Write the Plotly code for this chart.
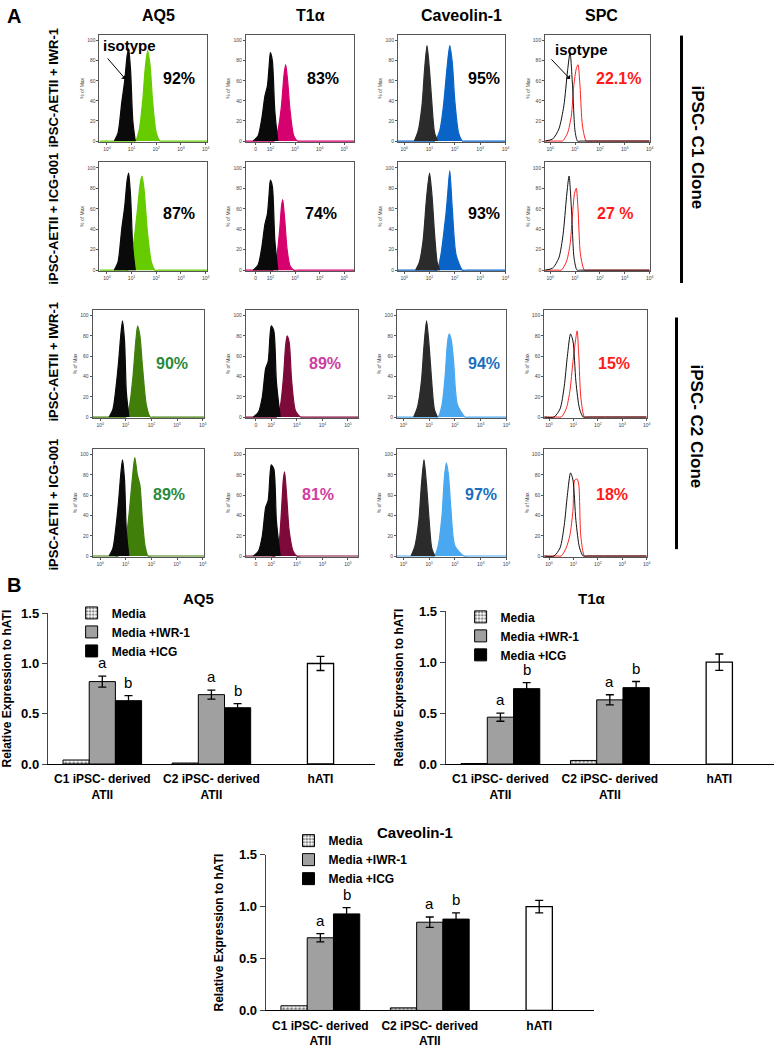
import plotly.graph_objects as go

W, H = 778, 1050
FONT = "Arial, Liberation Sans, sans-serif"

# ---------------- Panel A data (x = log10 fluorescence, y = % of Max) ----------------
MARKERS = ["AQ5", "T1α", "Caveolin-1", "SPC"]
ROW_LABELS = ["iPSC-AETII + IWR-1", "iPSC-AETII + ICG-001",
              "iPSC-AETII + IWR-1", "iPSC-AETII + ICG-001"]
PERCENTS = [["92%", "83%", "95%", "22.1%"],
            ["87%", "74%", "93%", "27 %"],
            ["90%", "89%", "94%", "15%"],
            ["89%", "81%", "97%", "18%"]]
CLONES = ["iPSC- C1 Clone", "iPSC- C2 Clone"]

AQ5_ISO_X = [[0.3, 0.45, 0.6, 0.72, 0.82, 0.88, 0.96, 1.05, 1.15],
             [0.3, 0.45, 0.6, 0.72, 0.82, 0.88, 0.96, 1.05, 1.15],
             [0.35, 0.5, 0.62, 0.72, 0.8, 0.87, 0.95, 1.02, 1.12],
             [0.35, 0.5, 0.62, 0.72, 0.8, 0.87, 0.95, 1.02, 1.12]]
AQ5_ISO_Y = [[0, 8, 38, 60, 85, 92, 70, 20, 0],
             [0, 8, 40, 62, 88, 95, 72, 22, 0],
             [0, 8, 30, 55, 80, 95, 75, 25, 0],
             [0, 8, 30, 55, 80, 95, 75, 25, 0]]
AQ5_POS_X = [[-0.3, 1.0, 1.15, 1.3, 1.45, 1.55, 1.65, 1.75, 1.85, 2.0, 2.15, 2.3, 4.05],
             [-0.3, 0.7, 0.85, 1.0, 1.15, 1.25, 1.35, 1.42, 1.5, 1.65, 1.8, 1.95, 2.1, 4.05],
             [-0.3, 0.85, 1.0, 1.15, 1.28, 1.38, 1.46, 1.55, 1.65, 1.8, 1.95, 2.1, 4.05],
             [-0.3, 0.55, 0.7, 0.95, 1.12, 1.25, 1.35, 1.45, 1.55, 1.65, 1.75, 1.87, 2.0, 4.05]]
AQ5_POS_Y = [[0, 0, 0, 10, 40, 72, 90, 75, 40, 8, 0, 0, 0],
             [0, 0, 0, 12, 40, 62, 85, 92, 80, 35, 8, 0, 0, 0],
             [0, 0, 0, 12, 40, 72, 90, 80, 50, 12, 0, 0, 0],
             [0, 0, 0, 10, 40, 75, 97, 80, 70, 35, 10, 0, 0, 0]]

T1A_ISO_X = [[1.3, 1.5, 1.65, 1.78, 1.88, 1.95, 2.0, 2.08, 2.18, 2.3],
             [1.3, 1.5, 1.65, 1.78, 1.88, 1.95, 2.0, 2.08, 2.18, 2.3],
             [1.3, 1.5, 1.65, 1.78, 1.88, 1.95, 2.0, 2.1, 2.2, 2.35],
             [1.3, 1.5, 1.65, 1.78, 1.88, 1.95, 2.0, 2.1, 2.2, 2.35]]
T1A_ISO_Y = [[0, 5, 22, 45, 55, 75, 88, 80, 30, 0],
             [0, 5, 22, 45, 55, 75, 88, 82, 30, 0],
             [0, 5, 20, 48, 55, 80, 90, 85, 35, 0],
             [0, 5, 20, 48, 55, 80, 90, 86, 35, 0]]
T1A_POS_X = [[1.0, 2.0, 2.15, 2.3, 2.45, 2.55, 2.62, 2.7, 2.8, 2.95, 3.1, 3.25, 5.4],
             [1.0, 1.95, 2.1, 2.25, 2.38, 2.45, 2.5, 2.58, 2.68, 2.8, 2.95, 3.1, 5.4],
             [1.0, 2.05, 2.2, 2.35, 2.48, 2.56, 2.62, 2.7, 2.8, 2.95, 3.15, 3.3, 5.4],
             [1.0, 2.0, 2.15, 2.3, 2.4, 2.47, 2.52, 2.6, 2.7, 2.85, 3.0, 3.15, 5.4]]
T1A_POS_Y = [[0, 0, 0, 10, 35, 65, 76, 60, 30, 5, 0, 0, 0],
             [0, 0, 0, 12, 40, 62, 69, 50, 20, 4, 0, 0, 0],
             [0, 0, 0, 10, 40, 70, 80, 74, 35, 6, 0, 0, 0],
             [0, 0, 0, 12, 45, 75, 83, 60, 25, 5, 0, 0, 0]]

CAV_ISO_X = [[0.4, 0.55, 0.7, 0.8, 0.9, 1.0, 1.1, 1.2, 1.32],
             [0.45, 0.6, 0.75, 0.88, 1.0, 1.1, 1.2, 1.3, 1.4],
             [0.4, 0.55, 0.7, 0.8, 0.9, 1.0, 1.1, 1.2, 1.32],
             [0.3, 0.45, 0.6, 0.7, 0.8, 0.9, 1.0, 1.1, 1.22]]
CAV_ISO_Y = [[0, 10, 35, 70, 95, 70, 35, 8, 0],
             [0, 8, 30, 70, 95, 72, 35, 8, 0],
             [0, 10, 35, 70, 95, 70, 35, 8, 0],
             [0, 10, 35, 70, 95, 70, 35, 8, 0]]
CAV_POS_X = [[-0.25, 1.05, 1.2, 1.4, 1.55, 1.7, 1.8, 1.9, 2.0, 2.15, 2.3, 2.45, 4.0],
             [-0.25, 1.15, 1.3, 1.45, 1.58, 1.65, 1.72, 1.8, 1.9, 2.05, 2.3, 2.45, 4.0],
             [-0.25, 1.2, 1.35, 1.5, 1.62, 1.72, 1.78, 1.86, 1.95, 2.1, 2.4, 2.55, 4.0],
             [-0.25, 1.05, 1.2, 1.35, 1.5, 1.6, 1.67, 1.75, 1.85, 2.0, 2.35, 2.5, 4.0]]
CAV_POS_Y = [[0, 0, 0, 10, 35, 75, 95, 78, 40, 8, 0, 0, 0],
             [0, 0, 0, 15, 40, 55, 75, 97, 60, 15, 0, 0, 0],
             [0, 0, 0, 12, 40, 75, 82, 76, 55, 12, 0, 0, 0],
             [0, 0, 0, 10, 40, 80, 92, 80, 45, 10, 0, 0, 0]]

SPC_ISO_X = [[-0.2, 0.1, 0.35, 0.55, 0.7, 0.8, 0.9, 1.0, 1.1, 1.25, 4.0],
             [-0.2, 0.1, 0.35, 0.52, 0.66, 0.76, 0.86, 0.96, 1.08, 1.22, 4.0],
             [-0.2, 0.2, 0.45, 0.62, 0.75, 0.88, 0.98, 1.1, 1.25, 1.4, 1.55, 4.0],
             [-0.2, 0.2, 0.45, 0.62, 0.75, 0.88, 0.98, 1.1, 1.25, 1.4, 1.55, 4.0]]
SPC_ISO_Y = [[0, 2, 12, 35, 70, 88, 55, 10, 0, 0, 0],
             [0, 2, 12, 35, 72, 92, 58, 12, 0, 0, 0],
             [0, 0, 8, 30, 60, 82, 75, 35, 8, 0, 0, 0],
             [0, 0, 8, 30, 60, 82, 75, 35, 8, 0, 0, 0]]
SPC_POS_X = [[-0.2, 0.35, 0.5, 0.7, 0.85, 0.95, 1.05, 1.12, 1.2, 1.3, 1.45, 1.6, 4.0],
             [-0.2, 0.3, 0.45, 0.65, 0.8, 0.9, 0.98, 1.05, 1.12, 1.22, 1.38, 1.52, 4.0],
             [-0.2, 0.35, 0.5, 0.7, 0.85, 0.98, 1.08, 1.15, 1.22, 1.3, 1.45, 1.6, 4.0],
             [-0.2, 0.35, 0.5, 0.7, 0.85, 0.98, 1.05, 1.15, 1.22, 1.3, 1.45, 1.6, 4.0]]
SPC_POS_Y = [[0, 0, 0, 8, 25, 55, 72, 76, 55, 15, 0, 0, 0],
             [0, 0, 0, 8, 25, 55, 75, 80, 60, 15, 0, 0, 0],
             [0, 0, 0, 8, 25, 55, 75, 85, 60, 20, 0, 0, 0],
             [0, 0, 0, 8, 20, 45, 75, 76, 70, 20, 0, 0, 0]]

HIST_TICKVALS = [[0, 1, 2, 3, 4], [1.4, 2, 3, 4, 5], [0, 1, 2, 3, 4], [0, 1, 2, 3, 4]]
HIST_TICKTEXT = [["10<sup>0</sup>", "10<sup>1</sup>", "10<sup>2</sup>", "10<sup>3</sup>", "10<sup>4</sup>"],
                 ["0", "10<sup>2</sup>", "10<sup>3</sup>", "10<sup>4</sup>", "10<sup>5</sup>"],
                 ["10<sup>0</sup>", "10<sup>1</sup>", "10<sup>2</sup>", "10<sup>3</sup>", "10<sup>4</sup>"],
                 ["10<sup>0</sup>", "10<sup>1</sup>", "10<sup>2</sup>", "10<sup>3</sup>", "10<sup>4</sup>"]]
HIST_YTICKS = [0, 20, 40, 60, 80, 100]

# ---------------- Panel B data ----------------
CATS = ["C1 iPSC- derived<br>ATII", "C2 iPSC- derived<br>ATII", "hATI"]
SERIES = ["Media", "Media +IWR-1", "Media +ICG"]

AQ5_MEDIA = [0.04, 0.01]
AQ5_IWR = [0.82, 0.69]
AQ5_IWR_ERR = [0.055, 0.045]
AQ5_ICG = [0.63, 0.56]
AQ5_ICG_ERR = [0.05, 0.04]
AQ5_HATI = [1.0]
AQ5_HATI_ERR = [0.07]

T1A_MEDIA = [0.005, 0.035]
T1A_IWR = [0.46, 0.63]
T1A_IWR_ERR = [0.04, 0.05]
T1A_ICG = [0.74, 0.75]
T1A_ICG_ERR = [0.06, 0.06]
T1A_HATI = [1.0]
T1A_HATI_ERR = [0.08]

CAV_MEDIA = [0.045, 0.025]
CAV_IWR = [0.70, 0.85]
CAV_IWR_ERR = [0.04, 0.05]
CAV_ICG = [0.93, 0.88]
CAV_ICG_ERR = [0.06, 0.06]
CAV_HATI = [1.0]
CAV_HATI_ERR = [0.06]

SIG_IWR = ["a", "a"]
SIG_ICG = ["b", "b"]

# ---------------- layout constants (pixels) ----------------
COLS_TOP = [(100, 208), (247, 356), (400, 508), (548, 653)]
COLS_BOT = [(93, 205), (247, 360), (399, 509), (547, 650)]
ROWS = [(28, 137), (157, 268), (307, 417), (448, 558)]
XRANGES = [[-0.3, 4.05], [1.0, 5.4], [-0.25, 4.0], [-0.2, 4.0]]
PCT_POS = [[(180, 73), (325, 73), (487, 73), (622, 73)],
           [(180, 210), (323, 210), (487, 210), (618, 210)],
           [(173, 362), (327, 362), (487, 362), (617, 362)],
           [(170, 495), (320, 495), (483, 495), (615, 495)]]
ROW_LABEL_Y = [82, 215, 360, 505]

ISO_COL = ["#0a0a0a", "#0a0a0a", "#2b2b2b", "#111111"]
POS_COL = [["#66cc00", "#d6006e", "#0a64c8", "#ff2020"],
           ["#66cc00", "#d6006e", "#0a64c8", "#ff2020"],
           ["#3f7f0a", "#7d0a38", "#4aa8f0", "#ff2020"],
           ["#3f7f0a", "#7d0a38", "#4aa8f0", "#ff2020"]]
PCT_COL = [["black", "black", "black", "#ff1a1a"],
           ["black", "black", "black", "#ff1a1a"],
           ["#2a8a3a", "#d03ca0", "#1a6ec0", "#ff1a1a"],
           ["#2a8a3a", "#d03ca0", "#1a6ec0", "#ff1a1a"]]


def px(x):
    return x / W


def py(y):
    return 1 - y / H


fig = go.Figure()
layout = {}
annotations = []
shapes = []

ISO_X = [AQ5_ISO_X, T1A_ISO_X, CAV_ISO_X, SPC_ISO_X]
ISO_Y = [AQ5_ISO_Y, T1A_ISO_Y, CAV_ISO_Y, SPC_ISO_Y]
POS_X = [AQ5_POS_X, T1A_POS_X, CAV_POS_X, SPC_POS_X]
POS_Y = [AQ5_POS_Y, T1A_POS_Y, CAV_POS_Y, SPC_POS_Y]

for r in range(4):
    cols = COLS_TOP if r < 2 else COLS_BOT
    y0, y1 = ROWS[r]
    for c in range(4):
        k = r * 4 + c + 1
        sx = "" if k == 1 else str(k)
        x0, x1 = cols[c]
        layout["xaxis" + sx] = dict(
            domain=[px(x0), px(x1)], anchor="y" + sx, range=XRANGES[c],
            tickvals=HIST_TICKVALS[c], ticktext=HIST_TICKTEXT[c],
            showline=True, mirror=True, linecolor="#555", linewidth=1,
            ticks="outside", ticklen=2, tickcolor="#555",
            tickfont=dict(size=5, color="#444", family=FONT),
            showgrid=False, zeroline=False, fixedrange=True)
        layout["yaxis" + sx] = dict(
            domain=[py(y1), py(y0)], anchor="x" + sx, range=[-1, 106],
            tickvals=HIST_YTICKS, showline=True, mirror=True, linecolor="#555",
            linewidth=1, ticks="outside", ticklen=2, tickcolor="#555",
            tickfont=dict(size=5, color="#444", family=FONT),
            title=dict(text="% of Max", font=dict(size=5, color="#444", family=FONT), standoff=2),
            showgrid=False, zeroline=False, fixedrange=True)
        spc = (c == 3)
        pos_kw = dict(x=POS_X[c][r], y=POS_Y[c][r], mode="lines",
                      line=dict(color=POS_COL[r][c], width=1 if spc else 1.2,
                                shape="spline", smoothing=0.7),
                      xaxis="x" + sx, yaxis="y" + sx, showlegend=False, hoverinfo="skip")
        iso_kw = dict(x=ISO_X[c][r], y=ISO_Y[c][r], mode="lines",
                      line=dict(color=ISO_COL[c], width=1 if spc else 1.2,
                                shape="spline", smoothing=0.7),
                      xaxis="x" + sx, yaxis="y" + sx, showlegend=False, hoverinfo="skip")
        if not spc:
            pos_kw.update(fill="tozeroy", fillcolor=POS_COL[r][c])
            iso_kw.update(fill="tozeroy", fillcolor=ISO_COL[c])
        fig.add_trace(go.Scatter(**pos_kw))
        fig.add_trace(go.Scatter(**iso_kw))

        tx, ty = PCT_POS[r][c]
        annotations.append(dict(text=PERCENTS[r][c], x=px(tx), y=py(ty), xref="paper", yref="paper",
                                showarrow=False, xanchor="center", yanchor="middle",
                                font=dict(size=16, color=PCT_COL[r][c], family=FONT, weight="bold")))
    annotations.append(dict(text=ROW_LABELS[r], x=px(54), y=py(ROW_LABEL_Y[r]), xref="paper",
                            yref="paper", showarrow=False, textangle=-90, xanchor="center",
                            yanchor="middle", font=dict(size=13, color="black", family=FONT, weight="bold")))

# column titles
for c, (tx, ty) in enumerate([(159, 9), (312, 9), (464, 9), (605, 9)]):
    annotations.append(dict(text=MARKERS[c], x=px(tx), y=py(ty), xref="paper", yref="paper",
                            showarrow=False, xanchor="center", yanchor="middle",
                            font=dict(size=16, color="black", family=FONT, weight="bold")))

# panel letters
for t, (tx, ty) in [("A", (14, 9)), ("B", (14, 586))]:
    annotations.append(dict(text=t, x=px(tx), y=py(ty), xref="paper", yref="paper",
                            showarrow=False, xanchor="center", yanchor="middle",
                            font=dict(size=20, color="black", family=FONT, weight="bold")))

# isotype labels with arrows
for (tx, ty), (ax0, ay0), (hx, hy) in [((130, 39), (107, 51), (126, 73)),
                                        ((585, 43), (553, 52), (573, 73))]:
    annotations.append(dict(text="isotype", x=px(tx), y=py(ty), xref="paper", yref="paper",
                            showarrow=False, xanchor="center", yanchor="middle",
                            font=dict(size=15, color="black", family=FONT, weight="bold")))
    annotations.append(dict(text="", x=px(hx), y=py(hy), xref="paper", yref="paper",
                            showarrow=True, ax=ax0 - hx, ay=ay0 - hy, arrowhead=1,
                            arrowsize=1, arrowwidth=1, arrowcolor="black"))

# clone labels and bars
for name, (lx, ly0, ly1), (tx, ty) in [(CLONES[0], (685, 29, 280), (701, 143)),
                                        (CLONES[1], (680, 315, 550), (700, 426))]:
    shapes.append(dict(type="line", xref="paper", yref="paper", x0=px(lx), x1=px(lx),
                       y0=py(ly0), y1=py(ly1), line=dict(color="black", width=3)))
    annotations.append(dict(text=name, x=px(tx), y=py(ty), xref="paper", yref="paper",
                            showarrow=False, textangle=90, xanchor="center", yanchor="middle",
                            font=dict(size=17, color="black", family=FONT, weight="bold")))

# ---------------- Panel B bar charts ----------------
BAR_W = 0.24
OFFS = [-0.36, -0.12, 0.12]


def bar_chart(k, title, media, iwr, iwr_err, icg, icg_err, hati, hati_err,
              xdom, ydom, legend_name, legend_pos, title_pos):
    sx = str(k)
    xa, ya = "x" + sx, "y" + sx
    fig.add_trace(go.Bar(x=CATS[:2], y=media, name=SERIES[0], offset=OFFS[0], width=BAR_W,
                         marker=dict(color="white", line=dict(color="black", width=1),
                                     pattern=dict(shape=".", fgcolor="black", bgcolor="white",
                                                  size=4, solidity=0.5)),
                         xaxis=xa, yaxis=ya, legend=legend_name, hoverinfo="skip"))
    fig.add_trace(go.Bar(x=CATS[:2], y=iwr, name=SERIES[1], offset=OFFS[1], width=BAR_W,
                         marker=dict(color="#a0a0a0", line=dict(color="black", width=1)),
                         error_y=dict(type="data", array=iwr_err, color="black", thickness=1.3, width=4),
                         xaxis=xa, yaxis=ya, legend=legend_name, hoverinfo="skip"))
    fig.add_trace(go.Bar(x=CATS[:2], y=icg, name=SERIES[2], offset=OFFS[2], width=BAR_W,
                         marker=dict(color="black", line=dict(color="black", width=1)),
                         error_y=dict(type="data", array=icg_err, color="black", thickness=1.3, width=4),
                         xaxis=xa, yaxis=ya, legend=legend_name, hoverinfo="skip"))
    fig.add_trace(go.Bar(x=CATS[2:], y=hati, name="hATI", offset=-BAR_W / 2, width=BAR_W,
                         marker=dict(color="white", line=dict(color="black", width=1.3)),
                         error_y=dict(type="data", array=hati_err, color="black", thickness=1.3, width=4),
                         xaxis=xa, yaxis=ya, showlegend=False, hoverinfo="skip"))
    for i in range(2):
        for vals, errs, sig, off in [(iwr, iwr_err, SIG_IWR, OFFS[1]), (icg, icg_err, SIG_ICG, OFFS[2])]:
            annotations.append(dict(text=sig[i], x=i + off + BAR_W / 2, y=vals[i] + errs[i],
                                    xref=xa, yref=ya, showarrow=False, xanchor="center",
                                    yanchor="bottom", yshift=3,
                                    font=dict(size=15, color="black", family=FONT)))
    layout["xaxis" + sx] = dict(domain=xdom, anchor=ya, type="category",
                                categoryorder="array", categoryarray=CATS,
                                range=[-0.5, 2.5], showline=True, linecolor="black", linewidth=1,
                                ticks="outside", ticklen=4, tickcolor="rgba(0,0,0,0)",
                                showgrid=False, zeroline=False,
                                tickfont=dict(size=12, color="black", family=FONT, weight="bold"),
                                fixedrange=True)
    layout["yaxis" + sx] = dict(domain=ydom, anchor=xa, range=[0, 1.5],
                                tickvals=[0, 0.5, 1.0, 1.5], tickformat=".1f",
                                showline=True, linecolor="#444", linewidth=1, ticks="outside",
                                ticklen=5, tickcolor="#444", showgrid=False, zeroline=False,
                                tickfont=dict(size=13, color="black", family=FONT, weight="bold"),
                                title=dict(text="Relative Expression to hATI", standoff=12,
                                           font=dict(size=12, color="black", family=FONT, weight="bold")),
                                fixedrange=True)
    layout[legend_name] = dict(x=legend_pos[0], y=legend_pos[1], xanchor="left", yanchor="top",
                               bgcolor="rgba(0,0,0,0)", itemwidth=30, tracegroupgap=0,
                               traceorder="normal",
                               font=dict(size=12, color="black", family=FONT, weight="bold"))
    annotations.append(dict(text=title, x=px(title_pos[0]), y=py(title_pos[1]), xref="paper",
                            yref="paper", showarrow=False, xanchor="center", yanchor="middle",
                            font=dict(size=15, color="black", family=FONT, weight="bold")))


bar_chart(17, "AQ5", AQ5_MEDIA, AQ5_IWR, AQ5_IWR_ERR, AQ5_ICG, AQ5_ICG_ERR, AQ5_HATI, AQ5_HATI_ERR,
          [px(48), px(377)], [py(768), py(615)], "legend", (px(72), py(600)), (200, 600))
bar_chart(18, "T1α", T1A_MEDIA, T1A_IWR, T1A_IWR_ERR, T1A_ICG, T1A_ICG_ERR, T1A_HATI, T1A_HATI_ERR,
          [px(448), 1.0], [py(768), py(613)], "legend2", (px(463), py(604)), (595, 600))
bar_chart(19, "Caveolin-1", CAV_MEDIA, CAV_IWR, CAV_IWR_ERR, CAV_ICG, CAV_ICG_ERR, CAV_HATI, CAV_HATI_ERR,
          [px(267), px(597)], [py(1018), py(860)], "legend3", (px(290), py(831)), (417, 837))

fig.update_layout(**layout)
fig.update_layout(width=W, height=H, margin=dict(l=0, r=0, t=0, b=0),
                  paper_bgcolor="white", plot_bgcolor="white", barmode="overlay",
                  font=dict(family=FONT, color="black"),
                  annotations=annotations, shapes=shapes, showlegend=True)

fig.write_html("out.html", config={"displayModeBar": False},
               post_script="document.body.style.margin='0';"
                           "document.body.style.overflow='hidden';"
                           "document.documentElement.style.overflow='hidden';")
